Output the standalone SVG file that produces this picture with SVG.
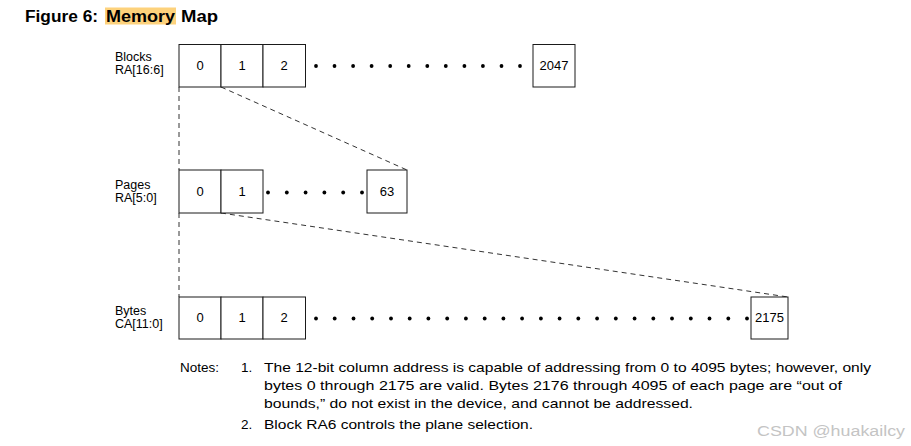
<svg xmlns="http://www.w3.org/2000/svg" width="911" height="446" viewBox="0 0 911 446">
<style>
.t{font-family:"Liberation Sans","Noto Sans",sans-serif;fill:#000}
.ttl{font-size:16px;font-weight:bold}
.lbl{font-size:12.5px}
.num{font-size:13px;text-anchor:middle}
.note{font-size:13.5px}
.cell{fill:#fff;stroke:#1a1a1a;stroke-width:1}
.dash{fill:none;stroke:#333;stroke-width:1;stroke-dasharray:5 4}
.dot{fill:#000}
</style>
<rect width="911" height="446" fill="#fff"/>
<rect x="105" y="7.5" width="71" height="17" fill="#fdd27c"/>
<text class="t ttl" x="25" y="22" textLength="73" lengthAdjust="spacingAndGlyphs">Figure 6:</text>
<text class="t ttl" x="106" y="22" textLength="69" lengthAdjust="spacingAndGlyphs">Memory</text>
<text class="t ttl" x="181" y="22" textLength="37" lengthAdjust="spacingAndGlyphs">Map</text>

<g id="connectors">
<line class="dash" x1="179" y1="87" x2="179" y2="170"/>
<line class="dash" x1="179" y1="213" x2="179" y2="297"/>
<line class="dash" x1="221" y1="87" x2="407" y2="170"/>
<line class="dash" x1="221" y1="213" x2="788" y2="297"/>
</g>

<g id="blocks">
<text class="t lbl" x="115" y="61">Blocks</text>
<text class="t lbl" x="115" y="74">RA[16:6]</text>
<rect class="cell" x="179" y="44.5" width="42" height="42.5"/>
<rect class="cell" x="221" y="44.5" width="42" height="42.5"/>
<rect class="cell" x="263" y="44.5" width="42.5" height="42.5"/>
<text class="t num" x="200" y="70">0</text>
<text class="t num" x="242" y="70">1</text>
<text class="t num" x="284" y="70">2</text>
<g class="dot">
<circle cx="316" cy="66" r="1.9"/><circle cx="334.5" cy="66" r="1.9"/><circle cx="353.1" cy="66" r="1.9"/><circle cx="371.6" cy="66" r="1.9"/><circle cx="390.2" cy="66" r="1.9"/><circle cx="408.7" cy="66" r="1.9"/><circle cx="427.3" cy="66" r="1.9"/><circle cx="445.8" cy="66" r="1.9"/><circle cx="464.4" cy="66" r="1.9"/><circle cx="482.9" cy="66" r="1.9"/><circle cx="501.5" cy="66" r="1.9"/><circle cx="520" cy="66" r="1.9"/>
</g>
<rect class="cell" x="533" y="44.5" width="42" height="42.5"/>
<text class="t num" x="554" y="70">2047</text>
</g>

<g id="pages">
<text class="t lbl" x="115" y="189">Pages</text>
<text class="t lbl" x="115" y="202">RA[5:0]</text>
<rect class="cell" x="179" y="170" width="42" height="43"/>
<rect class="cell" x="221" y="170" width="42" height="43"/>
<text class="t num" x="200" y="196">0</text>
<text class="t num" x="242" y="196">1</text>
<g class="dot">
<circle cx="268" cy="192.5" r="1.9"/><circle cx="286.8" cy="192.5" r="1.9"/><circle cx="305.6" cy="192.5" r="1.9"/><circle cx="324.4" cy="192.5" r="1.9"/><circle cx="343.2" cy="192.5" r="1.9"/><circle cx="362" cy="192.5" r="1.9"/>
</g>
<rect class="cell" x="367" y="170" width="40" height="43"/>
<text class="t num" x="387" y="196">63</text>
</g>

<g id="bytes">
<text class="t lbl" x="115" y="315">Bytes</text>
<text class="t lbl" x="115" y="328">CA[11:0]</text>
<rect class="cell" x="179" y="297" width="42" height="42"/>
<rect class="cell" x="221" y="297" width="42" height="42"/>
<rect class="cell" x="263" y="297" width="42.5" height="42"/>
<text class="t num" x="200" y="322">0</text>
<text class="t num" x="242" y="322">1</text>
<text class="t num" x="284" y="322">2</text>
<g class="dot">
<circle cx="316" cy="318.5" r="1.9"/><circle cx="334.7" cy="318.5" r="1.9"/><circle cx="353.5" cy="318.5" r="1.9"/><circle cx="372.2" cy="318.5" r="1.9"/><circle cx="391" cy="318.5" r="1.9"/><circle cx="409.7" cy="318.5" r="1.9"/><circle cx="428.4" cy="318.5" r="1.9"/><circle cx="447.2" cy="318.5" r="1.9"/><circle cx="465.9" cy="318.5" r="1.9"/><circle cx="484.7" cy="318.5" r="1.9"/><circle cx="503.4" cy="318.5" r="1.9"/><circle cx="522.1" cy="318.5" r="1.9"/><circle cx="540.9" cy="318.5" r="1.9"/><circle cx="559.6" cy="318.5" r="1.9"/><circle cx="578.3" cy="318.5" r="1.9"/><circle cx="597.1" cy="318.5" r="1.9"/><circle cx="615.8" cy="318.5" r="1.9"/><circle cx="634.6" cy="318.5" r="1.9"/><circle cx="653.3" cy="318.5" r="1.9"/><circle cx="672" cy="318.5" r="1.9"/><circle cx="690.8" cy="318.5" r="1.9"/><circle cx="709.5" cy="318.5" r="1.9"/><circle cx="728.3" cy="318.5" r="1.9"/><circle cx="747" cy="318.5" r="1.9"/>
</g>
<rect class="cell" x="751" y="297" width="37" height="42"/>
<text class="t num" x="769.5" y="322">2175</text>
</g>

<g id="notes">
<text class="t note" x="180" y="372">Notes:</text>
<text class="t note" x="241" y="372">1.</text>
<text class="t note" x="264" y="372" textLength="607" lengthAdjust="spacingAndGlyphs">The 12-bit column address is capable of addressing from 0 to 4095 bytes; however, only</text>
<text class="t note" x="264" y="390" textLength="578" lengthAdjust="spacingAndGlyphs">bytes 0 through 2175 are valid. Bytes 2176 through 4095 of each page are “out of</text>
<text class="t note" x="264" y="408" textLength="429" lengthAdjust="spacingAndGlyphs">bounds,” do not exist in the device, and cannot be addressed.</text>
<text class="t note" x="241" y="429">2.</text>
<text class="t note" x="264" y="429" textLength="269" lengthAdjust="spacingAndGlyphs">Block RA6 controls the plane selection.</text>
</g>

<text x="757" y="436" font-family="Liberation Sans, sans-serif" font-size="14" fill="#c4c4c4" textLength="148" lengthAdjust="spacingAndGlyphs">CSDN @huakailcy</text>
</svg>
